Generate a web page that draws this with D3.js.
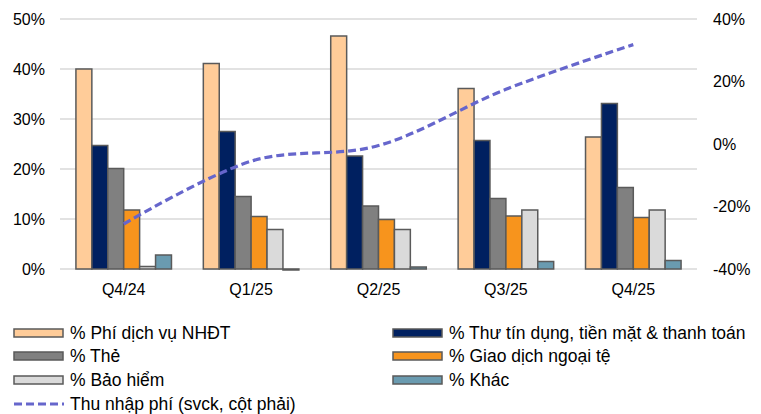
<!DOCTYPE html>
<html>
<head>
<meta charset="utf-8">
<script src="https://cdn.jsdelivr.net/npm/d3@7/dist/d3.min.js"></script>
<style>
  html, body { margin: 0; padding: 0; background: #fff; }
  svg { display: block; font-family: "Liberation Sans", Arial, sans-serif; }
</style>
</head>
<body>
<svg id="chart" width="761" height="414"></svg>
<script>
// Quarters on the horizontal axis
const categories = ["Q4/24", "Q1/25", "Q2/25", "Q3/25", "Q4/25"];

// Fee income structure (share of total, left axis)
const seriesNames = [
  "% Phí dịch vụ NHĐT",
  "% Thư tín dụng, tiền mặt & thanh toán",
  "% Thẻ",
  "% Giao dịch ngoại tệ",
  "% Bảo hiểm",
  "% Khác"
];
const phiNHDT   = [0.400, 0.411, 0.466, 0.361, 0.264];
const thuTinDung = [0.247, 0.275, 0.226, 0.257, 0.331];
const the       = [0.201, 0.145, 0.126, 0.141, 0.163];
const ngoaiTe   = [0.118, 0.105, 0.099, 0.106, 0.103];
const baoHiem   = [0.005, 0.079, 0.079, 0.118, 0.118];
const khac      = [0.028, -0.002, 0.004, 0.015, 0.017];
const seriesValues = [phiNHDT, thuTinDung, the, ngoaiTe, baoHiem, khac];
const seriesColors = ["#FFCC99", "#002060", "#808080", "#F7941D", "#DADADA", "#6A9BB0"];

// Fee income growth YoY (right axis)
const lineName = "Thu nhập phí (svck, cột phải)";
const feeGrowth = [-0.256, -0.055, -0.005, 0.175, 0.318];

// Tick labels
const leftTicks = [0, 0.1, 0.2, 0.3, 0.4, 0.5];
const rightTicks = [-0.4, -0.2, 0, 0.2, 0.4];

const svg = d3.select("#chart");
const plot = { left: 60, right: 697, top: 19, bottom: 269 };

const x = d3.scaleBand().domain(categories).range([plot.left, plot.right]);
const bw = x.bandwidth();
const barW = bw / 8;
const xs = d3.scaleBand().domain(d3.range(seriesNames.length))
  .range([(bw - barW * 6) / 2, (bw + barW * 6) / 2]);

const yL = d3.scaleLinear().domain([0, 0.5]).range([plot.bottom, plot.top]);
const yR = d3.scaleLinear().domain([-0.4, 0.4]).range([plot.bottom, plot.top]);

// Percent labels with a plain hyphen for negatives
const pct = d => Math.round(d * 100) + "%";

// Gridlines
svg.append("g").selectAll("line").data(leftTicks).join("line")
  .attr("x1", plot.left).attr("x2", plot.right)
  .attr("y1", d => yL(d)).attr("y2", d => yL(d))
  .attr("stroke", "#D9D9D9").attr("stroke-width", 1.5);

// Left axis
const axL = svg.append("g").attr("transform", `translate(${plot.left - 15},0)`)
  .call(d3.axisLeft(yL).tickValues(leftTicks).tickFormat(pct).tickSize(0).tickPadding(0));
axL.select(".domain").remove();
axL.selectAll("text").attr("font-size", 16).attr("fill", "#000").attr("font-family", "Liberation Sans, Arial, sans-serif");

// Right axis
const axR = svg.append("g").attr("transform", `translate(${plot.right + 16},0)`)
  .call(d3.axisRight(yR).tickValues(rightTicks).tickFormat(pct).tickSize(0).tickPadding(0));
axR.select(".domain").remove();
axR.selectAll("text").attr("font-size", 16).attr("fill", "#000").attr("font-family", "Liberation Sans, Arial, sans-serif");

// Bottom axis (category labels)
const axB = svg.append("g").attr("transform", `translate(0,${plot.bottom + 14})`)
  .call(d3.axisBottom(x).tickSize(0).tickPadding(0));
axB.select(".domain").remove();
axB.selectAll("text").attr("font-size", 16).attr("fill", "#000").attr("dy", "0.75em").attr("font-family", "Liberation Sans, Arial, sans-serif");

// Bars
seriesValues.forEach((vals, si) => {
  svg.append("g").selectAll("rect").data(vals).join("rect")
    .attr("x", (d, i) => x(categories[i]) + xs(si))
    .attr("width", xs.bandwidth())
    .attr("y", d => yL(Math.max(0, d)))
    .attr("height", d => Math.abs(yL(d) - yL(0)))
    .attr("fill", seriesColors[si])
    .attr("stroke", "#5A5A5A").attr("stroke-width", 1.5);
});

// Growth line (right axis)
const line = d3.line()
  .x((d, i) => x(categories[i]) + bw / 2)
  .y(d => yR(d))
  .curve(d3.curveCardinal.tension(0));
svg.append("path").datum(feeGrowth)
  .attr("d", line)
  .attr("fill", "none")
  .attr("stroke", "#6666CC").attr("stroke-width", 3.2)
  .attr("stroke-dasharray", "8,4");

// Legend
const legendItems = [
  { name: seriesNames[0], color: seriesColors[0], col: 0, row: 0 },
  { name: seriesNames[1], color: seriesColors[1], col: 1, row: 0 },
  { name: seriesNames[2], color: seriesColors[2], col: 0, row: 1 },
  { name: seriesNames[3], color: seriesColors[3], col: 1, row: 1 },
  { name: seriesNames[4], color: seriesColors[4], col: 0, row: 2 },
  { name: seriesNames[5], color: seriesColors[5], col: 1, row: 2 }
];
const colX = [14, 393];
const rowY = [333, 356, 380, 404];
const legendFont = 17.5;
const lg = svg.append("g");
legendItems.forEach(it => {
  const gx = colX[it.col], gy = rowY[it.row];
  lg.append("rect").attr("x", gx).attr("y", gy - 4).attr("width", 49).attr("height", 8)
    .attr("fill", it.color).attr("stroke", "#5A5A5A").attr("stroke-width", 1.5);
  lg.append("text").attr("x", gx + 56).attr("y", gy).attr("dy", "0.35em")
    .attr("font-size", legendFont).attr("fill", "#000").text(it.name);
});
lg.append("line").attr("x1", colX[0]).attr("x2", colX[0] + 50)
  .attr("y1", rowY[3]).attr("y2", rowY[3])
  .attr("stroke", "#6666CC").attr("stroke-width", 3.2).attr("stroke-dasharray", "8,4");
lg.append("text").attr("x", colX[0] + 56).attr("y", rowY[3]).attr("dy", "0.35em")
  .attr("font-size", legendFont).attr("fill", "#000").text(lineName);
</script>
</body>
</html>
